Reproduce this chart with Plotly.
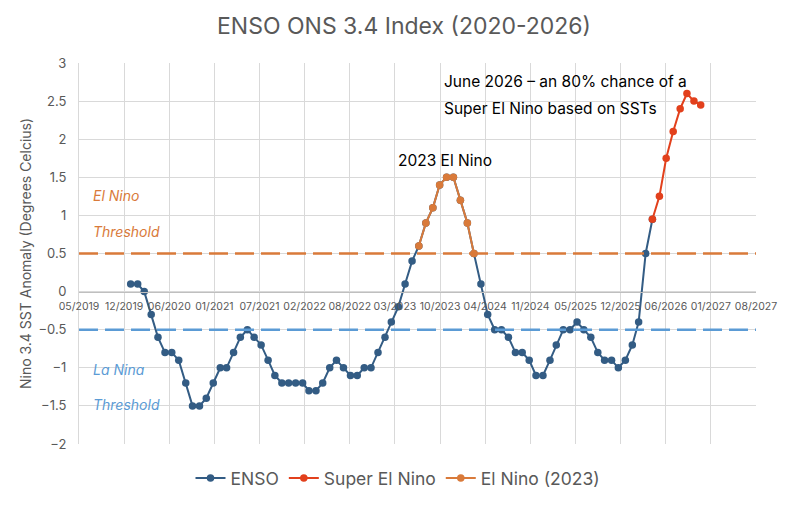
import pandas as pd
import plotly.graph_objects as go

# ---- data (monthly) ----
enso_start = "2020-01-01"
enso_values = [0.1, 0.1, 0.0, -0.3, -0.6, -0.8, -0.8, -0.9, -1.2, -1.5, -1.5, -1.4,
               -1.2, -1.0, -1.0, -0.8, -0.6, -0.5, -0.6, -0.7, -0.9, -1.1, -1.2, -1.2,
               -1.2, -1.2, -1.3, -1.3, -1.2, -1.0, -0.9, -1.0, -1.1, -1.1, -1.0, -1.0,
               -0.8, -0.6, -0.4, -0.2, 0.1, 0.4, 0.6, 0.9, 1.1, 1.4, 1.5, 1.5,
               1.2, 0.9, 0.5, 0.1, -0.3, -0.5, -0.5, -0.6, -0.8, -0.8, -0.9, -1.1,
               -1.1, -0.9, -0.7, -0.5, -0.5, -0.4, -0.5, -0.6, -0.8, -0.9, -0.9, -1.0,
               -0.9, -0.7, -0.4, 0.5, 0.95]

super_start = "2026-05-01"
super_values = [0.95, 1.25, 1.75, 2.1, 2.4, 2.6, 2.5, 2.45]

elnino_start = "2023-07-01"
elnino_values = [0.6, 0.9, 1.1, 1.4, 1.5, 1.5, 1.2, 0.9, 0.5]

el_nino_threshold = 0.5
la_nina_threshold = -0.5

axis_start = "2019-05-17"
axis_end = "2027-08-03"
tick_step_days = 200
n_ticks = 16

enso_dates = pd.date_range(enso_start, periods=len(enso_values), freq="MS")
super_dates = pd.date_range(super_start, periods=len(super_values), freq="MS")
elnino_dates = pd.date_range(elnino_start, periods=len(elnino_values), freq="MS")
tick_dates = pd.date_range(axis_start, periods=n_ticks, freq=f"{tick_step_days}D")

BLUE = "#335C84"
RED = "#E2401C"
ORANGE = "#D97A3A"
LBLUE = "#5B9BD5"
GRAY = "#595959"
FONT = "Inter"

fig = go.Figure()
fig.add_trace(go.Scatter(x=enso_dates, y=enso_values, mode="lines+markers", name="ENSO",
                         line=dict(color=BLUE, width=2), marker=dict(color=BLUE, size=7.5)))
fig.add_trace(go.Scatter(x=super_dates, y=super_values, mode="lines+markers", name="Super El Nino",
                         line=dict(color=RED, width=2), marker=dict(color=RED, size=7.5)))
fig.add_trace(go.Scatter(x=elnino_dates, y=elnino_values, mode="lines+markers", name="El Nino (2023)",
                         line=dict(color=ORANGE, width=2), marker=dict(color=ORANGE, size=7.5)))

fig.add_shape(type="line", xref="paper", x0=0, x1=1, yref="y", y0=el_nino_threshold, y1=el_nino_threshold,
              line=dict(color=ORANGE, width=2.5, dash="19px,7px"), layer="above")
fig.add_shape(type="line", xref="paper", x0=0, x1=1, yref="y", y0=la_nina_threshold, y1=la_nina_threshold,
              line=dict(color=LBLUE, width=2.5, dash="19px,7px"), layer="above")

# plot area in pixels: x 79..756, y 63..444
W, H = 792, 505
L, R, T, B = 79, 36, 63, 61
pw, ph = W - L - R, H - T - B

def px(x):
    return (x - L) / pw

def py(y):
    return (H - B - y) / ph

def note(text, x, y, color, size=14, italic=False):
    fig.add_annotation(text=f"<i>{text}</i>" if italic else text, xref="paper", yref="paper",
                       x=px(x), y=py(y), xanchor="left", yanchor="middle", showarrow=False,
                       font=dict(family=FONT, size=size, color=color))

note("El Nino", 91, 195, ORANGE, 14, True)
note("Threshold", 91, 231, ORANGE, 14, True)
note("La Nina", 91, 369, LBLUE, 14, True)
note("Threshold", 91, 404, LBLUE, 14, True)
note("2023 El Nino", 396, 160, "black", 15.5)
note("June 2026 – an 80% chance of a", 442, 81, "black", 15.5)
note("Super El Nino based on SSTs", 442, 108, "black", 15.5)

fig.update_layout(
    width=W, height=H,
    margin=dict(l=L, r=R, t=T, b=B, autoexpand=False),
    paper_bgcolor="white", plot_bgcolor="white",
    font=dict(family=FONT, color=GRAY),
    title=dict(text="ENSO ONS 3.4 Index (2020-2026)", x=404 / W, xref="container", xanchor="center",
               y=1 - 26 / H, yref="container", yanchor="middle",
               font=dict(family=FONT, size=23, color=GRAY)),
    showlegend=True,
    legend=dict(orientation="h", x=px(398), xanchor="center", y=py(478), yanchor="middle",
                font=dict(family=FONT, size=17.5, color=GRAY), traceorder="normal"),
    xaxis=dict(type="date", range=[axis_start, axis_end], tickmode="array", tickvals=tick_dates,
               tickformat="%m/%Y", tickfont=dict(family=FONT, size=10.5, color=GRAY),
               showgrid=True, gridcolor="#D9D9D9", gridwidth=1, zeroline=False,
               showline=True, linecolor="#BFBFBF", linewidth=1,
               anchor="free", position=0.4, ticks="", ticklabelstandoff=5),
    yaxis=dict(range=[-2, 3], tick0=-2, dtick=0.5, showgrid=True, gridcolor="#D9D9D9",
               zeroline=False, showline=True, linecolor="#D9D9D9",
               tickfont=dict(family=FONT, size=13, color=GRAY), ticklabelstandoff=9,
               title=dict(text="Nino 3.4 SST Anomaly (Degrees Celcius)", standoff=3,
                          font=dict(family=FONT, size=14, color=GRAY))),
)

fig.write_html("out.html", config={"displayModeBar": False},
               post_script="document.body.style.margin='0';")
